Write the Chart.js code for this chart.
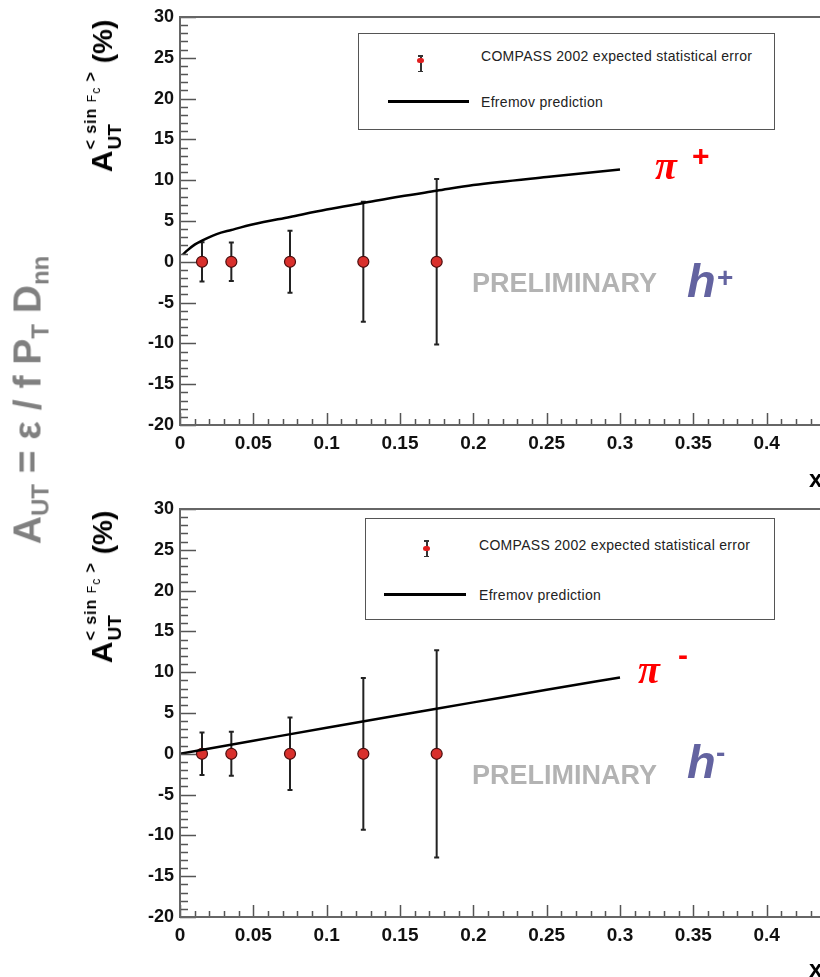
<!DOCTYPE html>
<html>
<head>
<meta charset="utf-8">
<script src="https://cdn.jsdelivr.net/npm/chart.js@4.4.0/dist/chart.umd.min.js"></script>
<style>
  html, body { margin: 0; padding: 0; background: #fff; }
  body { width: 820px; height: 977px; overflow: hidden; position: relative; font-family: "Liberation Sans", Arial, sans-serif; }
  canvas { position: absolute; left: 0; }
  #chartTop { top: 0; }
  #chartBottom { top: 490px; }
  .abs { position: absolute; white-space: nowrap; line-height: 1; }
  .legend { position: absolute; border: 1px solid #555; background: #fff; box-sizing: border-box; }
  .legend .txt { position: absolute; font-size: 14px; letter-spacing: 0.3px; color: #222; white-space: nowrap; line-height: 1; }
  .legend .line { position: absolute; height: 3px; background: #000; }
  .ebar { position: absolute; width: 7px; height: 17px; }
  .ebar .v { position: absolute; left: 3px; top: 0; width: 1.5px; height: 100%; background: #333; }
  .ebar .cap { position: absolute; left: 1px; width: 5px; height: 1.5px; background: #333; }
  .ebar .dot { position: absolute; left: 0; width: 7px; height: 5px; border-radius: 3px; background: #e02020; }
  .ytitle { position: absolute; transform: translate(-50%, -50%) rotate(-90deg); white-space: nowrap; font-weight: bold; color: #000; line-height: 1; }
  .ytitle .A { font-size: 30px; }
  .ytitle .ss { display: inline-block; position: relative; font-size: 16px; letter-spacing: 1px; vertical-align: 16px; margin-left: 1px; }
  .ytitle .ss .fc { font-size: 12px; font-weight: normal; }
  .ytitle .ss sub { font-size: 12px; font-weight: normal; vertical-align: -4px; }
  .ytitle .ss .ut { position: absolute; left: 0; top: 22px; font-size: 19px; letter-spacing: 0; }
  .ytitle .pc { font-size: 28px; }
  .bigtitle { position: absolute; left: 30px; top: 400px; transform: translate(-50%, -50%) rotate(-90deg); white-space: nowrap; font-weight: bold; color: #808080; font-size: 39px; line-height: 1; }
  .bigtitle sub { font-size: 24px; vertical-align: -8px; }
  .prelim { font-size: 27px; font-weight: bold; color: #b3b3b3; }
  .hlab { font-size: 47px; font-weight: bold; font-style: italic; color: #6363a0; }
  .hsup { font-size: 28px; font-weight: bold; color: #6363a0; }
  .pilab { font-family: "Liberation Serif", serif; font-size: 40px; font-style: italic; font-weight: bold; color: #ff0000; }
  .pisup { font-size: 30px; font-weight: bold; color: #ff0000; }
  .xlab { font-size: 24px; font-weight: bold; color: #000; }
</style>
</head>
<body>
<canvas id="chartTop" width="870" height="465"></canvas>
<canvas id="chartBottom" width="870" height="467"></canvas>

<!-- legends -->
<div class="legend" style="left:358px;top:33px;width:417px;height:97px">
  <div class="ebar" style="left:58px;top:21px"><div class="v"></div><div class="cap" style="top:0"></div><div class="cap" style="bottom:0"></div><div class="dot" style="top:3px"></div></div>
  <div class="txt" style="left:122px;top:15px">COMPASS 2002 expected statistical error</div>
  <div class="line" style="left:29px;top:66px;width:81px"></div>
  <div class="txt" style="left:122px;top:61px">Efremov prediction</div>
</div>
<div class="legend" style="left:365px;top:518px;width:410px;height:102px">
  <div class="ebar" style="left:57px;top:21px"><div class="v"></div><div class="cap" style="top:0"></div><div class="cap" style="bottom:0"></div><div class="dot" style="top:6px"></div></div>
  <div class="txt" style="left:113px;top:19px">COMPASS 2002 expected statistical error</div>
  <div class="line" style="left:18px;top:74px;width:82px"></div>
  <div class="txt" style="left:113px;top:69px">Efremov prediction</div>
</div>

<!-- axis titles -->
<div class="ytitle" style="left:100px;top:96px"><span class="A">A</span><span class="ss">&lt; sin <span class="fc">F</span><sub>c</sub> &gt;<span class="ut">UT</span></span><span class="pc"> (%)</span></div>
<div class="ytitle" style="left:100px;top:587px"><span class="A">A</span><span class="ss">&lt; sin <span class="fc">F</span><sub>c</sub> &gt;<span class="ut">UT</span></span><span class="pc"> (%)</span></div>
<div class="bigtitle">A<sub>UT</sub> = ε / f P<sub>T</sub> D<sub>nn</sub></div>
<div class="abs xlab" style="left:809px;top:467px">x</div>
<div class="abs xlab" style="left:809px;top:957px">x</div>

<!-- panel annotations -->
<div class="abs pilab" style="left:655px;top:146px">π</div>
<div class="abs pisup" style="left:692px;top:141px">+</div>
<div class="abs prelim" style="left:472px;top:270px">PRELIMINARY</div>
<div class="abs hlab" style="left:687px;top:257px">h</div>
<div class="abs hsup" style="left:717px;top:264px">+</div>

<div class="abs pilab" style="left:638px;top:650px">π</div>
<div class="abs pisup" style="left:678px;top:640px">-</div>
<div class="abs prelim" style="left:472px;top:762px">PRELIMINARY</div>
<div class="abs hlab" style="left:687px;top:738px">h</div>
<div class="abs hsup" style="left:716px;top:739px">-</div>

<script>
// x bins and expected statistical errors (same bins for h+ and h-)
const pointX = [0.015, 0.035, 0.075, 0.125, 0.175];
const pointY = [0, 0, 0, 0, 0];
const errPlus = [2.4, 2.35, 3.8, 7.35, 10.15];
const errMinus = [2.6, 2.7, 4.45, 9.3, 12.7];

// Efremov prediction, pi+ and pi-
const efremovPlusX = [0.002, 0.005, 0.01, 0.015, 0.025, 0.035, 0.05, 0.075, 0.1, 0.125, 0.15, 0.175, 0.2, 0.25, 0.3];
const efremovPlusY = [0.9, 1.4, 2.1, 2.6, 3.4, 3.9, 4.6, 5.5, 6.4, 7.2, 8.0, 8.7, 9.4, 10.4, 11.3];
const efremovMinusX = [0, 0.05, 0.1, 0.15, 0.2, 0.25, 0.3];
const efremovMinusY = [0, 1.6, 3.2, 4.75, 6.3, 7.85, 9.35];

const xTickValues = [0, 0.05, 0.1, 0.15, 0.2, 0.25, 0.3, 0.35, 0.4, 0.45];
const xTickLabels = ["0", "0.05", "0.1", "0.15", "0.2", "0.25", "0.3", "0.35", "0.4", "0.45"];
const yTickValues = [-20, -15, -10, -5, 0, 5, 10, 15, 20, 25, 30];
const yTickLabels = ["-20", "-15", "-10", "-5", "0", "5", "10", "15", "20", "25", "30"];

// vertical error bars under the markers
const errorBars = {
  id: "errorBars",
  beforeDatasetsDraw(chart, args, opts) {
    const { ctx, scales: { x, y } } = chart;
    ctx.save();
    ctx.strokeStyle = "#222";
    ctx.lineWidth = 2;
    pointX.forEach((px, i) => {
      const cx = x.getPixelForValue(px);
      const top = y.getPixelForValue(pointY[i] + opts.errors[i]);
      const bot = y.getPixelForValue(pointY[i] - opts.errors[i]);
      ctx.beginPath();
      ctx.moveTo(cx, top); ctx.lineTo(cx, bot);
      ctx.moveTo(cx - 2.5, top); ctx.lineTo(cx + 2.5, top);
      ctx.moveTo(cx - 2.5, bot); ctx.lineTo(cx + 2.5, bot);
      ctx.stroke();
    });
    ctx.restore();
  }
};

// ROOT-style frame with inward major/minor ticks
const frameTicks = {
  id: "frameTicks",
  afterDraw(chart) {
    const { ctx, chartArea: a, scales: { x, y } } = chart;
    ctx.save();
    ctx.strokeStyle = "#555";
    ctx.lineWidth = 1.5;
    ctx.beginPath();
    for (let i = 0; i <= 45; i++) {
      const px = Math.round(x.getPixelForValue(i / 100)) + 0.5;
      const len = i % 5 === 0 ? 12 : 6;
      ctx.moveTo(px, a.bottom); ctx.lineTo(px, a.bottom - len);
    }
    for (let v = -20; v <= 30; v++) {
      const py = Math.round(y.getPixelForValue(v)) + 0.5;
      const len = v % 5 === 0 ? 16 : 8;
      ctx.moveTo(a.left, py); ctx.lineTo(a.left + len, py);
    }
    ctx.stroke();
    ctx.lineWidth = 2;
    ctx.strokeStyle = "#666";
    ctx.strokeRect(a.left, a.top, a.right - a.left, a.bottom - a.top);
    ctx.restore();
  }
};

function makeChart(id, lineX, lineY, errors, padTop) {
  return new Chart(document.getElementById(id), {
    type: "scatter",
    data: {
      datasets: [
        {
          type: "line",
          data: lineX.map((v, i) => ({ x: v, y: lineY[i] })),
          borderColor: "#000",
          borderWidth: 2.5,
          pointRadius: 0,
          fill: false,
          cubicInterpolationMode: "monotone"
        },
        {
          data: pointX.map((v, i) => ({ x: v, y: pointY[i] })),
          pointRadius: 5.5,
          pointBackgroundColor: "#d9302c",
          pointBorderColor: "#4a0d0d",
          pointBorderWidth: 1.2
        }
      ]
    },
    options: {
      responsive: false,
      animation: false,
      devicePixelRatio: 1,
      layout: { padding: { left: 120, top: padTop, right: 30, bottom: 0 } },
      plugins: {
        legend: { display: false },
        tooltip: { enabled: false },
        errorBars: { errors: errors }
      },
      scales: {
        x: {
          type: "linear",
          min: 0,
          max: 0.45,
          afterBuildTicks: (s) => { s.ticks = xTickValues.map((v) => ({ value: v })) },
          afterFit: (s) => { s.height = 40 },
          grid: { display: false, drawTicks: false },
          border: { display: false },
          ticks: {
            autoSkip: false,
            maxRotation: 0,
            padding: 7,
            color: "#111",
            font: { family: "Liberation Sans", size: 19, weight: "bold" },
            callback: (v, i) => xTickLabels[i]
          }
        },
        y: {
          min: -20,
          max: 30,
          afterBuildTicks: (s) => { s.ticks = yTickValues.map((v) => ({ value: v })) },
          afterFit: (s) => { s.width = 60 },
          grid: { display: false, drawTicks: false },
          border: { display: false },
          ticks: {
            autoSkip: false,
            padding: 6,
            color: "#111",
            font: { family: "Liberation Sans", size: 18, weight: "bold" },
            callback: (v, i) => yTickLabels[i]
          }
        }
      }
    },
    plugins: [errorBars, frameTicks]
  });
}

makeChart("chartTop", efremovPlusX, efremovPlusY, errPlus, 17);
makeChart("chartBottom", efremovMinusX, efremovMinusY, errMinus, 19);
</script>
</body>
</html>
